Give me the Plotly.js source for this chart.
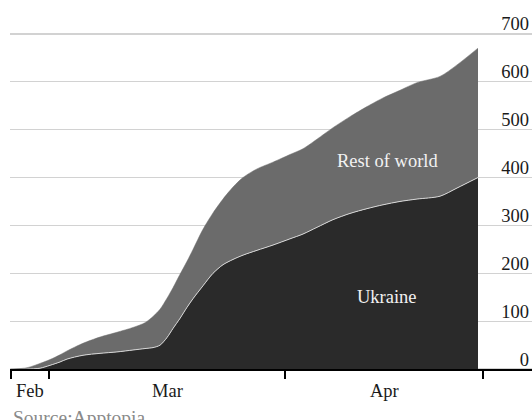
<!DOCTYPE html>
<html>
<head>
<meta charset="utf-8">
<script src="https://cdn.plot.ly/plotly-3.0.1.min.js"></script>
<style>html,body{margin:0;padding:0;background:#fff;}#chart{width:532px;height:420px;}</style>
</head>
<body>
<div id="chart"></div>
<script>
// time index (arbitrary linear units along the x axis)
const t = [0, 16, 29, 39, 49, 56, 72, 89, 106, 122, 134, 142, 149, 156, 162, 169, 176, 182, 192, 202, 212, 222, 232, 246, 262, 279, 292, 306, 322, 339, 356, 372, 389, 406, 429, 446, 467];
// Ukraine (bottom layer)
const ukraine = [0, 0, 2, 8, 15, 21, 29, 33, 36, 40, 43, 45, 50, 66, 85, 106, 129, 147, 174, 200, 218, 229, 238, 248, 259, 272, 282, 296, 312, 325, 335, 343, 350, 355, 361, 378, 400];
// Rest of world (stacked on top)
const restOfWorld = [0, 3, 10, 12, 15, 17, 25, 34, 41, 47, 54, 65, 75, 82, 85, 92, 96, 103, 118, 126, 137, 151, 162, 170, 173, 176, 178, 184, 192, 202, 213, 223, 232, 243, 250, 257, 270];
// month boundaries and labels
const monthTicks = [0, 38, 274, 472];
const monthLabels = ["Feb", "Mar", "Apr"];
const yTicks = [0, 100, 200, 300, 400, 500, 600, 700];
const seriesLabels = ["Ukraine", "Rest of world"];

const FONT = "Liberation Serif, Times New Roman, serif";

const traces = [
  {
    x: t, y: ukraine, type: 'scatter', mode: 'lines', stackgroup: 'one',
    name: seriesLabels[0],
    line: {color: '#d6d6d6', width: 1, shape: 'spline', smoothing: 0.8},
    fillcolor: '#2a2a2a', hoverinfo: 'skip'
  },
  {
    x: t, y: restOfWorld, type: 'scatter', mode: 'lines', stackgroup: 'one',
    name: seriesLabels[1],
    line: {color: '#6b6b6b', width: 0.5, shape: 'spline', smoothing: 0.8},
    fillcolor: '#6b6b6b', hoverinfo: 'skip'
  }
];

const annotations = [];
for (let i = 0; i < monthLabels.length; i++) {
  annotations.push({
    x: (monthTicks[i] + monthTicks[i + 1]) / 2, xref: 'x',
    y: 0, yref: 'y', yanchor: 'top', xanchor: 'center', yshift: -10,
    text: monthLabels[i], showarrow: false,
    font: {family: FONT, size: 18.5, color: '#1a1a1a'}
  });
}
annotations.push({
  x: 0, xref: 'paper', xanchor: 'left', xshift: 1,
  y: 0, yref: 'y', yanchor: 'top', yshift: -36,
  text: 'Source:Apptopia', showarrow: false,
  font: {family: FONT, size: 19.5, color: '#8a8a8a'}
});
annotations.push({
  x: 376, xref: 'x', y: 435, yref: 'y', text: seriesLabels[1], showarrow: false,
  font: {family: FONT, size: 18.5, color: '#f2f2f2'}
});
annotations.push({
  x: 376, xref: 'x', y: 150, yref: 'y', text: seriesLabels[0], showarrow: false,
  font: {family: FONT, size: 18.5, color: '#f2f2f2'}
});

const yMin = -8, yMax = 760;

const layout = {
  width: 532, height: 420,
  margin: {l: 10, r: 0, t: 5, b: 47},
  paper_bgcolor: '#fff', plot_bgcolor: '#fff',
  showlegend: false,
  font: {family: FONT, size: 18.5, color: '#1a1a1a'},
  xaxis: {
    range: [-1, 521], showgrid: false, zeroline: false,
    anchor: 'free', position: (0 - yMin) / (yMax - yMin),
    showline: true, linecolor: '#000', linewidth: 1.5,
    tickmode: 'array', tickvals: monthTicks, ticktext: monthTicks.map(() => ''),
    ticks: 'outside', ticklen: 8, tickwidth: 1.5, tickcolor: '#000',
    fixedrange: true
  },
  yaxis: {
    range: [yMin, yMax], side: 'right',
    tickmode: 'array', tickvals: yTicks, ticktext: yTicks.map(String),
    ticklabelposition: 'inside top', ticklabelshift: 3,
    ticks: '', showline: false, zeroline: false,
    showgrid: true, gridcolor: '#d2d2d2', gridwidth: 1.5,
    tickfont: {family: FONT, size: 18.5, color: '#1a1a1a'},
    fixedrange: true
  },
  annotations: annotations
};

Plotly.newPlot('chart', traces, layout, {displayModeBar: false, staticPlot: true});
</script>
</body>
</html>
